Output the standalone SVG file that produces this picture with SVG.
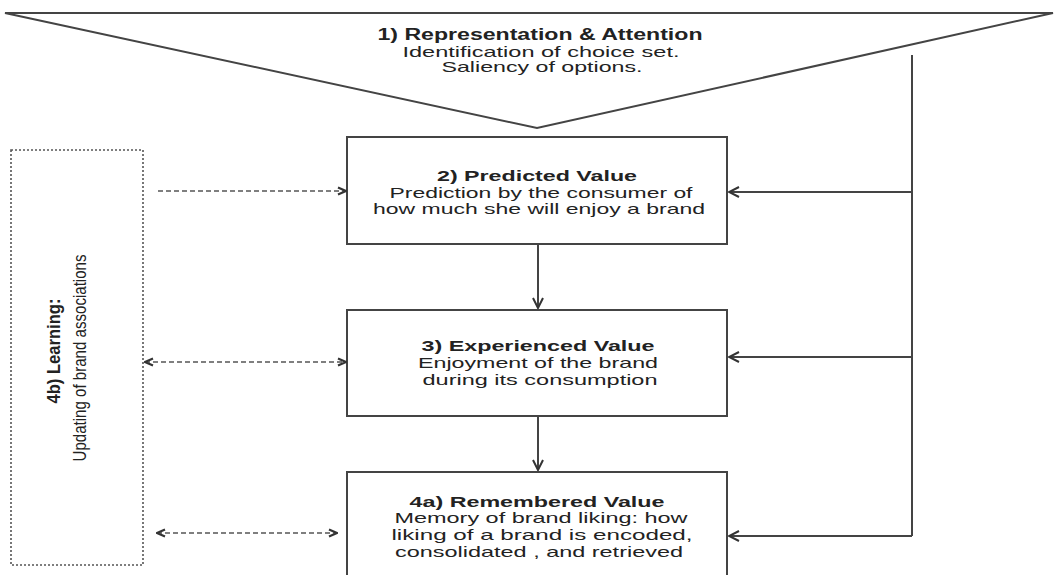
<svg xmlns="http://www.w3.org/2000/svg" width="1056" height="575" viewBox="0 0 1056 575">
<style>
  .t{font-family:"Liberation Sans",Arial,sans-serif;fill:#222;text-anchor:middle}
  .b{font-weight:bold}
  .box{fill:#fff;stroke:#444;stroke-width:2}
  .ln{fill:none;stroke:#444;stroke-width:2}
  .dl{fill:none;stroke:#555;stroke-width:1.6;stroke-dasharray:5,3}
</style>
<defs>
  <marker id="ah" viewBox="0 0 12 12" refX="11" refY="6" markerWidth="12" markerHeight="12" markerUnits="userSpaceOnUse" orient="auto-start-reverse">
    <path d="M1,1 L11,6 L1,11" fill="none" stroke="#333" stroke-width="2"/>
  </marker>
  <marker id="ahs" viewBox="0 0 10 10" refX="9" refY="5" markerWidth="10" markerHeight="10" markerUnits="userSpaceOnUse" orient="auto-start-reverse">
    <path d="M1,1.5 L9,5 L1,8.5" fill="none" stroke="#333" stroke-width="2.2"/>
  </marker>
</defs>
<rect width="1056" height="575" fill="#fff"/>

<g id="node1">
  <polygon points="5,13 1053,13 537,128" fill="#fff" stroke="#444" stroke-width="2"/>
  <text class="t b" x="540" y="40" font-size="16" textLength="325" lengthAdjust="spacingAndGlyphs">1) Representation &amp; Attention</text>
  <text class="t" x="541" y="57" font-size="15" textLength="277" lengthAdjust="spacingAndGlyphs">Identification of choice set.</text>
  <text class="t" x="542" y="72" font-size="15" textLength="201" lengthAdjust="spacingAndGlyphs">Saliency of options.</text>
</g>

<g id="node2">
  <rect class="box" x="347" y="137" width="380" height="107"/>
  <text class="t b" x="537" y="181" font-size="14.5" textLength="200" lengthAdjust="spacingAndGlyphs">2) Predicted Value</text>
  <text class="t" x="541" y="198" font-size="14.5" textLength="303" lengthAdjust="spacingAndGlyphs">Prediction by the consumer of</text>
  <text class="t" x="539" y="214" font-size="14.5" textLength="332" lengthAdjust="spacingAndGlyphs">how much she will enjoy a brand</text>
</g>

<g id="node3">
  <rect class="box" x="347" y="310" width="380" height="106"/>
  <text class="t b" x="538" y="351" font-size="14.5" textLength="233" lengthAdjust="spacingAndGlyphs">3) Experienced Value</text>
  <text class="t" x="538" y="368" font-size="14.5" textLength="240" lengthAdjust="spacingAndGlyphs">Enjoyment of the brand</text>
  <text class="t" x="540" y="385" font-size="14.5" textLength="235" lengthAdjust="spacingAndGlyphs">during its consumption</text>
</g>

<g id="node4a">
  <rect class="box" x="347" y="472" width="380" height="120"/>
  <text class="t b" x="537" y="507" font-size="14.5" textLength="255" lengthAdjust="spacingAndGlyphs">4a) Remembered Value</text>
  <text class="t" x="541" y="523" font-size="14.5" textLength="293" lengthAdjust="spacingAndGlyphs">Memory of brand liking: how</text>
  <text class="t" x="542" y="540" font-size="14.5" textLength="301" lengthAdjust="spacingAndGlyphs">liking of a brand is encoded,</text>
  <text class="t" x="539" y="557" font-size="14.5" textLength="288" lengthAdjust="spacingAndGlyphs">consolidated , and retrieved</text>
</g>

<g id="node4b">
  <rect x="11" y="150" width="132" height="415" fill="#fff" stroke="#555" stroke-width="1.6" stroke-dasharray="2,2"/>
  <text class="t b" transform="translate(60,351) rotate(-90)" font-size="18" textLength="105" lengthAdjust="spacingAndGlyphs">4b) Learning:</text>
  <text class="t" transform="translate(86,358) rotate(-90)" font-size="19" textLength="207" lengthAdjust="spacingAndGlyphs">Updating of brand associations</text>
</g>

<g id="connectors">
  <line class="ln" x1="912" y1="55" x2="912" y2="536"/>
  <line class="ln" x1="912" y1="192" x2="729" y2="192" marker-end="url(#ah)"/>
  <line class="ln" x1="912" y1="357" x2="729" y2="357" marker-end="url(#ah)"/>
  <line class="ln" x1="912" y1="536" x2="729" y2="536" marker-end="url(#ah)"/>
  <line class="ln" x1="538" y1="245" x2="538" y2="308" marker-end="url(#ah)"/>
  <line class="ln" x1="538" y1="417" x2="538" y2="470" marker-end="url(#ah)"/>
  <line class="dl" x1="158" y1="191" x2="346" y2="191" marker-end="url(#ahs)"/>
  <line class="dl" x1="145" y1="362" x2="346" y2="362" marker-start="url(#ahs)" marker-end="url(#ahs)"/>
  <line class="dl" x1="157" y1="533" x2="337" y2="533" marker-start="url(#ahs)" marker-end="url(#ahs)"/>
</g>
</svg>
